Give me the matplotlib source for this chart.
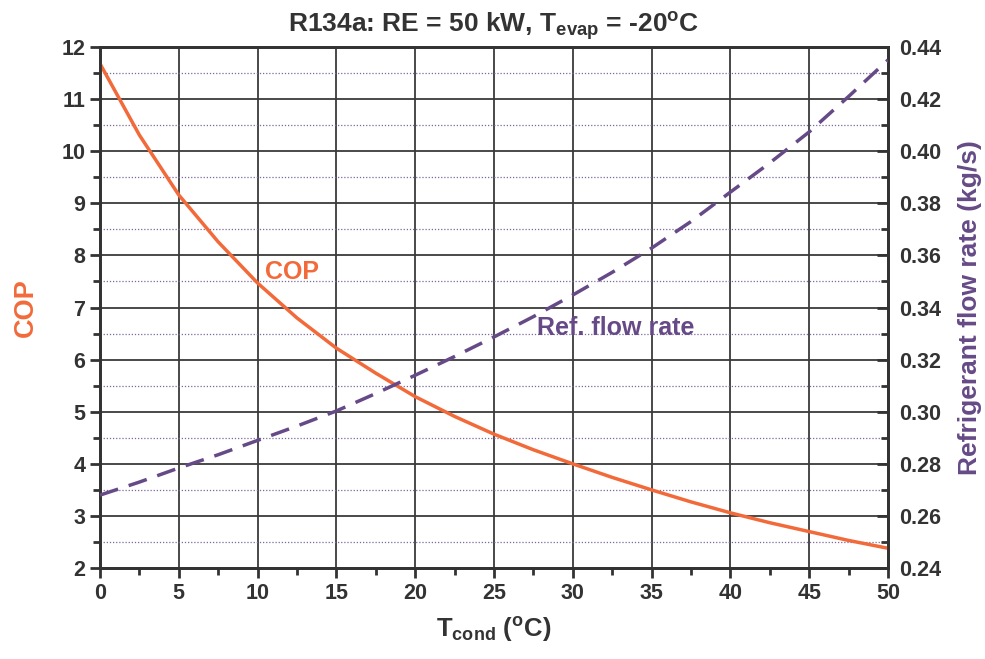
import matplotlib
matplotlib.use("Agg")
import matplotlib.pyplot as plt
from matplotlib.ticker import MultipleLocator

plt.rcParams["font.family"] = ["Liberation Sans", "DejaVu Sans"]
plt.rcParams["font.weight"] = "bold"
plt.rcParams["mathtext.fontset"] = "custom"
plt.rcParams["mathtext.rm"] = "Liberation Sans:bold"
plt.rcParams["mathtext.bf"] = "Liberation Sans:bold"
plt.rcParams["mathtext.default"] = "bf"

# data (every 2.5 degC)
t_cond = [0, 2.5, 5, 7.5, 10, 12.5, 15, 17.5, 20, 22.5, 25,
          27.5, 30, 32.5, 35, 37.5, 40, 42.5, 45, 47.5, 50]
cop = [11.68, 10.31, 9.16, 8.26, 7.47, 6.80, 6.22, 5.74, 5.29, 4.91, 4.57,
       4.27, 4.00, 3.74, 3.50, 3.27, 3.06, 2.87, 2.70, 2.53, 2.38]
flow_rate = [0.268, 0.273, 0.2784, 0.2835, 0.289, 0.2945, 0.3003, 0.307,
             0.314, 0.3212, 0.3287, 0.3365, 0.3448, 0.3535, 0.3628, 0.373,
             0.3843, 0.3955, 0.4074, 0.421, 0.435]

ORANGE = "#f26a3a"
PURPLE = "#664a87"
DARK = "#333333"

fig = plt.figure(figsize=(9.85, 6.59), dpi=100)
ax1 = fig.add_axes([0.1015, 0.138, 0.8, 0.7907])

ax1.set_xlim(0, 50)
ax1.set_ylim(2, 12)
ax1.xaxis.set_major_locator(MultipleLocator(5))
ax1.xaxis.set_minor_locator(MultipleLocator(2.5))
ax1.yaxis.set_major_locator(MultipleLocator(1))
ax1.yaxis.set_minor_locator(MultipleLocator(0.5))

# grid: solid at majors, dotted purple at half steps
ax1.grid(which="major", axis="both", color="#3a3a3a", linewidth=1.3)
for y in [2.5 + i for i in range(10)]:
    ax1.axhline(y, color="#7a6a9a", linestyle=(0, (1, 1.5)), linewidth=0.9,
                zorder=1)
ax1.set_axisbelow(True)

ax1.plot(t_cond, cop, color=ORANGE, linewidth=2.5, zorder=3)

ax1.tick_params(axis="both", which="major", direction="out", length=7,
                width=2, color=DARK, labelsize=15.5, labelcolor=DARK)
ax1.tick_params(axis="both", which="minor", direction="out", length=5,
                width=2, color=DARK)
for s in ax1.spines.values():
    s.set_linewidth(2)
    s.set_color(DARK)

ax1.set_ylabel("COP", color=ORANGE, fontsize=19.5, fontweight="bold",
               labelpad=16)
ax1.set_xlabel(r"T$_{\mathbf{cond}}$ ($^{\mathbf{o}}$C)", color=DARK,
               fontsize=18.5, fontweight="bold", labelpad=8)
ax1.set_title(r"R134a: RE = 50 kW, T$_{\mathbf{evap}}$ = -20$^{\mathbf{o}}$C",
              color=DARK, fontsize=19, fontweight="bold", pad=10)

ax2 = ax1.twinx()
ax2.set_ylim(0.24, 0.44)
ax2.yaxis.set_major_locator(MultipleLocator(0.02))
ax2.yaxis.set_minor_locator(MultipleLocator(0.01))
ax2.plot(t_cond, flow_rate, color=PURPLE, linewidth=2.5,
         linestyle=(0, (5.5, 3.2)), zorder=3)
ax2.tick_params(axis="y", which="major", direction="in", length=8, width=2,
                color=DARK, labelsize=15.5, labelcolor=DARK, pad=8)
ax2.tick_params(axis="y", which="minor", direction="in", length=5, width=2,
                color=DARK)
ax2.set_yticklabels([f"{v:.2f}" for v in ax2.get_yticks()])
for s in ax2.spines.values():
    s.set_linewidth(2)
    s.set_color(DARK)
ax2.set_ylabel("Refrigerant flow rate (kg/s)", color=PURPLE, fontsize=19,
               fontweight="bold", labelpad=12)

ax1.text(10.5, 7.68, "COP", color=ORANGE, fontsize=18, fontweight="bold",
         va="center", ha="left", zorder=4)
ax2.text(27.7, 0.332, "Ref. flow rate", color=PURPLE, fontsize=18,
         fontweight="bold", va="center", ha="left", zorder=4)

fig.savefig("out.png", dpi=100)
